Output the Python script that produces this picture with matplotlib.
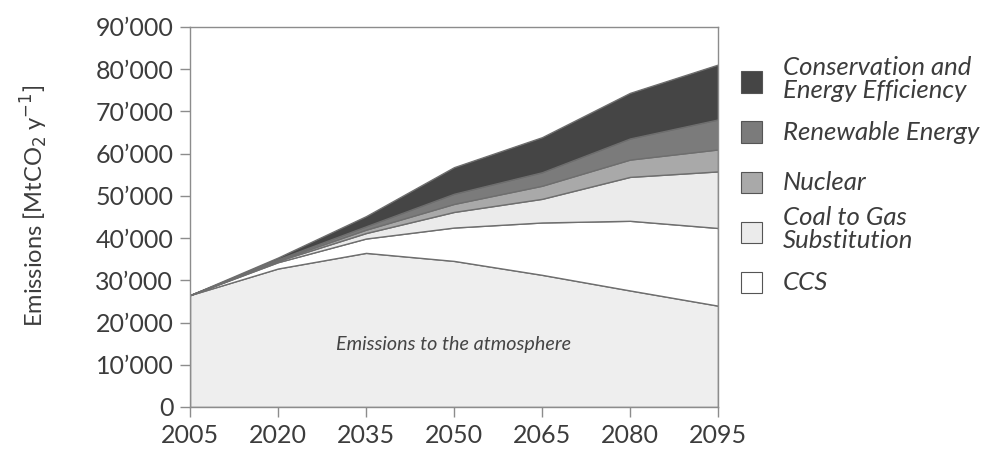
import matplotlib.pyplot as plt
import matplotlib.patches as mpatches
from matplotlib.ticker import FuncFormatter

plt.rcParams["font.family"] = ["Lato", "DejaVu Sans"]

# data (MtCO2 per year)
years = [2005, 2020, 2035, 2050, 2065, 2080, 2095]
emissions = [26500, 32800, 36500, 34600, 31300, 27600, 24000]
ccs = [0, 1500, 3400, 7900, 12400, 16500, 18400]
coal_to_gas = [0, 300, 1300, 3700, 5600, 10400, 13400]
nuclear = [0, 200, 800, 1900, 3100, 4100, 5200]
renewable = [0, 200, 800, 2400, 3200, 5000, 7100]
conservation = [0, 400, 2400, 6300, 8300, 10800, 13000]

labels = ["Conservation and\nEnergy Efficiency", "Renewable Energy",
          "Nuclear", "Coal to Gas\nSubstitution", "CCS"]
colours = ["#454545", "#7b7b7b", "#a9a9a9", "#ebebeb", "#ffffff"]
emis_colour = "#eeeeee"
edge = "#6e6e6e"
axis_grey = "#8c8c8c"
text_col = "#3c3c3c"

fig = plt.figure(figsize=(10.02, 4.54), dpi=100)
ax = fig.add_axes([190 / 1002, 47 / 454, 528 / 1002, 380 / 454])

ax.stackplot(
    years,
    emissions, ccs, coal_to_gas, nuclear, renewable, conservation,
    colors=[emis_colour] + colours[::-1],
    edgecolor=edge, linewidth=1.0,
)

ax.set_xlim(2005, 2095)
ax.set_ylim(0, 90000)
ax.set_xticks(years)
ax.set_yticks(range(0, 90001, 10000))
ax.yaxis.set_major_formatter(
    FuncFormatter(lambda v, p: "0" if v == 0 else f"{int(v):,}".replace(",", "\u2019"))
)

for s in ax.spines.values():
    s.set_color(axis_grey)
    s.set_linewidth(1.0)
ax.tick_params(direction="out", length=7, width=1.0, color=axis_grey,
               labelsize=18, labelcolor=text_col, pad=5)

ax.set_ylabel("Emissions [MtCO$_2$ y$^{-1}$]", fontsize=17, color=text_col)
ax.yaxis.set_label_coords(-0.265, 0.53)

ax.text(2050, 14900, "Emissions to the atmosphere", fontsize=14.2,
        style="italic", color="#444444", ha="center", va="center")

# legend drawn by hand to sit like the reference
box_y = [82, 132, 182, 232, 282]
for y, lab, col in zip(box_y, labels, colours):
    fig.patches.append(mpatches.Rectangle(
        (741 / 1002, 1 - (y + 10.5) / 454), 21 / 1002, 21 / 454,
        transform=fig.transFigure, facecolor=col, edgecolor="#555555",
        linewidth=0.8))
    ty = y - 3 if "\n" in lab else y
    fig.text(783 / 1002, 1 - ty / 454, lab, fontsize=18.5, style="italic",
             color=text_col, va="center", ha="left", linespacing=1.0)

fig.savefig("out.png", dpi=100)
